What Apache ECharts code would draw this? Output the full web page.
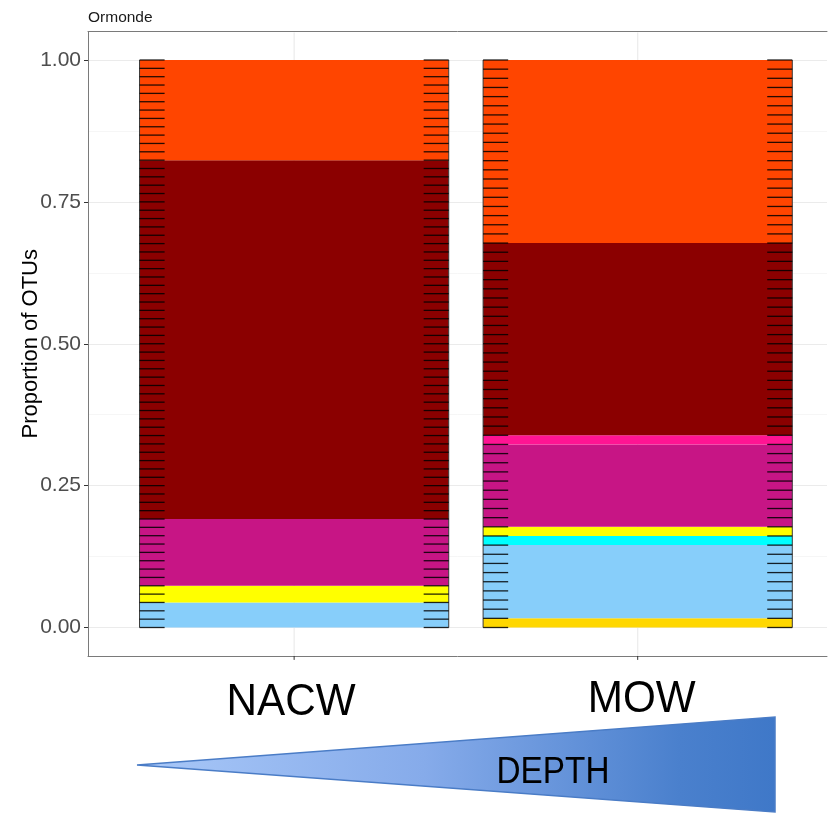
<!DOCTYPE html>
<html>
<head>
<meta charset="utf-8">
<script src="https://cdn.jsdelivr.net/npm/echarts@6/dist/echarts.min.js"></script>
<style>
  html, body { margin: 0; padding: 0; background: #fff; }
  #chart { width: 832px; height: 815px; }
</style>
</head>
<body>
<div id="chart"></div>
<script>
// Water masses, shallow to deep
const sites = ['NACW', 'MOW'];

// OTU counts of each taxonomic group per water mass, stacked bottom first
const groupColors = ['#FFD700', '#87CEFA', '#00FFFF', '#FFFF00', '#C71585', '#FF1493', '#8B0000', '#FF4500'];
const otusGold      = [0, 1];
const otusSkyBlue   = [3, 8];
const otusCyan      = [0, 1];
const otusYellow    = [2, 1];
const otusVioletRed = [8, 9];
const otusDeepPink  = [0, 1];
const otusDarkRed   = [43, 21];
const otusOrangeRed = [12, 20];
const groupCounts = [otusGold, otusSkyBlue, otusCyan, otusYellow, otusVioletRed, otusDeepPink, otusDarkRed, otusOrangeRed];

// y axis breaks
const yTickValues = [0, 0.25, 0.5, 0.75, 1];

const FONT = '"Liberation Sans", Arial, Helvetica, sans-serif';
const BAR_HALF = 0.45;     // half of the bar width, in category units
const DASH_LEN = 0.073;    // length of the per-OTU edge dashes, in category units
const X_MIN = 0.4;         // discrete axis expansion on the left
const X_MAX = 2.551;       // the panel runs on past the right edge of the page

const totals = sites.map((_, s) => groupCounts.reduce((sum, g) => sum + g[s], 0));

// one stacked segment per group and site, as proportions of that site's OTUs
const segments = [];
sites.forEach((_, s) => {
  let acc = 0;
  groupCounts.forEach((g, gi) => {
    if (g[s] > 0) {
      segments.push([s + 1, acc / totals[s], (acc + g[s]) / totals[s], gi]);
      acc += g[s];
    }
  });
});

const outlineData = sites.map((_, s) => [s + 1, totals[s]]);
const guideData = sites.map((_, s) => [s + 1]);

const chart = echarts.init(document.getElementById('chart'), null, { renderer: 'canvas' });

const yMin = yTickValues[0];
const yMax = yTickValues[yTickValues.length - 1];
const yStep = yTickValues[1] - yTickValues[0];
const yPad = 0.05 * (yMax - yMin);

const frameLine = { show: true, onZero: false, lineStyle: { color: '#7a7a7a', width: 1 } };
const frameAxis = (position) => ({
  gridIndex: 0, type: 'value', min: X_MIN, max: X_MAX, position,
  axisLine: frameLine, axisTick: { show: false }, axisLabel: { show: false }, splitLine: { show: false }
});

chart.setOption({
  animation: false,
  backgroundColor: '#fff',
  title: {
    text: 'Ormonde',
    left: 88,
    top: 10,
    padding: 0,
    textStyle: { fontFamily: FONT, fontSize: 15.5, fontWeight: 'normal', color: '#1a1a1a' }
  },
  grid: [
    // panel frame, including the expansion above and below the data range
    { left: 88, top: 31.6, right: 5, height: 624.3 },
    // data area, 0 to 1
    { left: 88, top: 60, right: 5, height: 567.5 }
  ],
  xAxis: [
    frameAxis('bottom'),
    { gridIndex: 1, type: 'value', min: X_MIN, max: X_MAX, show: false },
    frameAxis('top')
  ],
  yAxis: [
    {
      gridIndex: 0, type: 'value', min: yMin - yPad, max: yMax + yPad,
      axisLine: frameLine, axisTick: { show: false }, axisLabel: { show: false }, splitLine: { show: false }
    },
    {
      gridIndex: 1, type: 'value', min: yMin, max: yMax, interval: yStep,
      name: 'Proportion of OTUs',
      nameLocation: 'middle',
      nameGap: 46,
      nameMoveOverlap: false,
      nameTextStyle: { fontFamily: FONT, fontSize: 22, color: '#000' },
      axisLine: { show: false },
      axisTick: { show: true, length: 4, lineStyle: { color: '#333', width: 1 } },
      axisLabel: { fontFamily: FONT, fontSize: 21, color: '#4d4d4d', margin: 7, formatter: v => v.toFixed(2) },
      splitLine: { show: true, lineStyle: { color: '#ebebeb', width: 1.2 } },
      minorTick: { show: false, splitNumber: 2 },
      minorSplitLine: { show: true, lineStyle: { color: '#f4f4f4', width: 0.8 } }
    }
  ],
  series: [
    {
      // vertical guide lines at each water mass and the x ticks below the panel
      type: 'custom',
      xAxisIndex: 0, yAxisIndex: 0,
      z: 1,
      silent: true,
      clip: false,
      data: guideData,
      renderItem: (params, api) => {
        const x = api.value(0);
        const top = api.coord([x, yMax + yPad]);
        const bottom = api.coord([x, yMin - yPad]);
        return {
          type: 'group',
          children: [
            { type: 'line', shape: { x1: top[0], y1: top[1] + 1, x2: bottom[0], y2: bottom[1] - 1 }, style: { stroke: '#ebebeb', lineWidth: 1.2 } },
            { type: 'line', shape: { x1: bottom[0], y1: bottom[1], x2: bottom[0], y2: bottom[1] + 4 }, style: { stroke: '#333', lineWidth: 1 } }
          ]
        };
      }
    },
    {
      // stacked group segments
      type: 'custom',
      xAxisIndex: 1, yAxisIndex: 1,
      z: 2,
      silent: true,
      data: segments,
      renderItem: (params, api) => {
        const x = api.value(0);
        const p0 = api.coord([x - BAR_HALF, api.value(2)]);
        const p1 = api.coord([x + BAR_HALF, api.value(1)]);
        return {
          type: 'rect',
          shape: { x: p0[0], y: p0[1], width: p1[0] - p0[0], height: p1[1] - p0[1] },
          style: { fill: groupColors[api.value(3)] }
        };
      }
    },
    {
      // bar sides and one short dash at every OTU boundary on both sides
      type: 'custom',
      xAxisIndex: 1, yAxisIndex: 1,
      z: 3,
      silent: true,
      clip: false,
      data: outlineData,
      renderItem: (params, api) => {
        const x = api.value(0);
        const n = api.value(1);
        const children = [];
        const lt = api.coord([x - BAR_HALF, 1]);
        const lb = api.coord([x - BAR_HALF, 0]);
        const rt = api.coord([x + BAR_HALF, 1]);
        const rb = api.coord([x + BAR_HALF, 0]);
        children.push({ type: 'line', shape: { x1: lt[0], y1: lt[1], x2: lb[0], y2: lb[1] }, style: { stroke: '#3a3a3a', lineWidth: 1 } });
        children.push({ type: 'line', shape: { x1: rt[0], y1: rt[1], x2: rb[0], y2: rb[1] }, style: { stroke: '#3a3a3a', lineWidth: 1 } });
        for (let k = 0; k <= n; k++) {
          const v = k / n;
          const a = api.coord([x - BAR_HALF, v]);
          const b = api.coord([x - BAR_HALF + DASH_LEN, v]);
          const c = api.coord([x + BAR_HALF - DASH_LEN, v]);
          const d = api.coord([x + BAR_HALF, v]);
          children.push({ type: 'line', shape: { x1: a[0], y1: a[1], x2: b[0], y2: b[1] }, style: { stroke: 'rgba(0,0,0,0.85)', lineWidth: 1.3 } });
          children.push({ type: 'line', shape: { x1: c[0], y1: c[1], x2: d[0], y2: d[1] }, style: { stroke: 'rgba(0,0,0,0.85)', lineWidth: 1.3 } });
        }
        return { type: 'group', children };
      }
    }
  ]
});

// water-mass names under each bar and the depth wedge
const nameY = 703;
const siteLabels = sites.map((name, s) => {
  const px = chart.convertToPixel({ xAxisIndex: 1 }, s + 1);
  return {
    type: 'text',
    x: px - 3 + s * 7,
    y: nameY - s * 3,
    scaleX: 0.96,
    style: { text: name, fontFamily: FONT, fontSize: 44, fill: '#000', align: 'center', verticalAlign: 'middle' }
  };
});

chart.setOption({
  graphic: [
    ...siteLabels,
    {
      type: 'polygon',
      shape: { points: [[137, 765], [775, 717], [775, 812]] },
      style: {
        fill: {
          type: 'linear', x: 0, y: 0, x2: 1, y2: 0,
          colorStops: [
            { offset: 0, color: '#a9c8f8' },
            { offset: 0.45, color: '#86abea' },
            { offset: 0.85, color: '#4a80cd' },
            { offset: 1, color: '#3f78c8' }
          ]
        },
        stroke: '#4a7cc6',
        lineWidth: 1.5
      }
    },
    {
      type: 'text',
      x: 553,
      y: 773,
      scaleX: 0.9,
      style: { text: 'DEPTH', fontFamily: FONT, fontSize: 37, fill: '#000', align: 'center', verticalAlign: 'middle' }
    }
  ]
});
</script>
</body>
</html>
